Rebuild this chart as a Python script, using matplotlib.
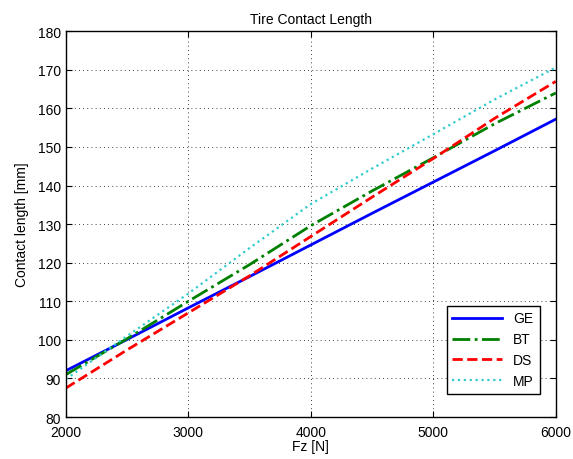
import matplotlib
matplotlib.use("Agg")
import matplotlib.pyplot as plt

plt.rcParams['font.family'] = ['Liberation Sans', 'DejaVu Sans']

fz = [2000, 2500, 3000, 3500, 4000, 4500, 5000, 5500, 6000]
ge = [92.0, 100.1, 108.3, 116.4, 124.6, 132.8, 140.9, 149.0, 157.2]
bt = [91.0, 100.3, 110.0, 119.5, 129.6, 138.6, 147.2, 156.0, 164.0]
ds = [87.5, 97.4, 107.0, 116.6, 126.8, 137.0, 147.0, 157.4, 167.0]
mp = [89.8, 101.0, 112.0, 123.8, 135.2, 144.4, 153.3, 162.3, 170.6]

xticks = [2000, 3000, 4000, 5000, 6000]
yticks = [80, 90, 100, 110, 120, 130, 140, 150, 160, 170, 180]

fig = plt.figure(figsize=(5.73, 4.60), dpi=100)
ax = fig.add_axes([0.115, 0.0913, 0.855, 0.8387])

ax.plot(fz, ge, color='#0000ff', lw=2.0, ls='-', label='GE')
ax.plot(fz, bt, color='#008000', lw=2.0, ls='-.', label='BT')
ax.plot(fz, ds, color='#ff0000', lw=2.0, ls='--', label='DS')
ax.plot(fz, mp, color='#33cccc', lw=1.6, ls=':', label='MP')

ax.set_xlim(2000, 6000)
ax.set_ylim(80, 180)
ax.set_xticks(xticks)
ax.set_yticks(yticks)
ax.tick_params(direction='in', top=True, right=True, labelsize=10, length=4)
ax.tick_params(axis='x', pad=6)
ax.grid(True, color='black', ls=(0, (1, 4)), lw=0.6)
for s in ax.spines.values():
    s.set_linewidth(1.0)

ax.set_xlabel('Fz [N]', fontsize=10, labelpad=0)
ax.set_ylabel('Contact length [mm]', fontsize=10, labelpad=6)
ax.set_title('Tire Contact Length', fontsize=10, pad=6)

leg = ax.legend(loc='lower right', bbox_to_anchor=(0.967, 0.06), borderaxespad=0,
                fontsize=10, handlelength=3.6, fancybox=False,
                framealpha=1, edgecolor='black', labelspacing=0.5)
leg.get_frame().set_linewidth(1.0)

fig.savefig('out.png', dpi=100)
